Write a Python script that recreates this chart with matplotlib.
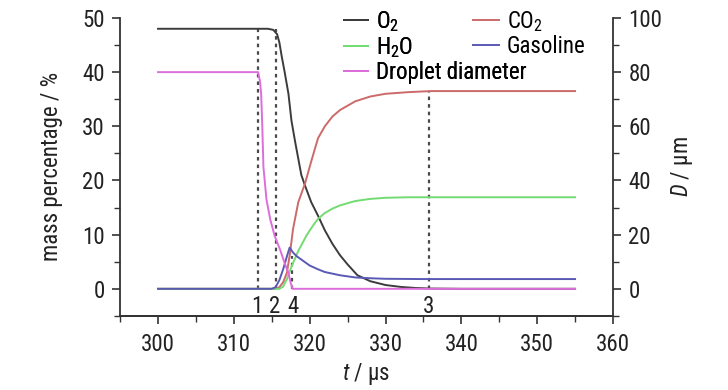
import matplotlib
matplotlib.use("Agg")
import matplotlib.pyplot as plt
from matplotlib import font_manager
from matplotlib.ticker import MultipleLocator

# ---------------- data ----------------
t_o2 = [300, 314.5, 315.2, 315.7, 316.0, 316.3, 316.7, 317.2, 317.6, 318.1, 318.5, 318.9,
        319.4, 320.2, 321.1, 322.0, 323.0, 324.0, 325.0, 326.3, 328.0, 330.0, 332.0, 334.0,
        336.0, 340.0, 355.0]
o2 = [48, 48, 47.8, 47.0, 45.5, 43.0, 40.0, 36.0, 31.0, 27.0, 24.0, 21.0,
      19.0, 16.0, 13.5, 10.8, 8.3, 6.2, 4.5, 2.5, 1.4, 0.7, 0.35, 0.15,
      0.05, 0.0, 0.0]

t_co2 = [300, 315.5, 316.0, 316.5, 317.0, 317.4, 317.8, 318.5, 319.4, 320.2, 321.1, 322.0,
         323.0, 324.0, 326.0, 328.0, 330.0, 333.0, 336.0, 340.0, 355.0]
co2 = [0, 0, 0.3, 1.2, 3.0, 6.5, 11.0, 16.0, 19.5, 23.5, 27.8, 30.0,
       31.8, 33.0, 34.6, 35.5, 36.0, 36.3, 36.5, 36.5, 36.5]

t_h2o = [300, 316.0, 316.5, 317.0, 317.6, 318.5, 319.6, 320.5, 321.1, 322.0, 323.0, 324.0,
         326.0, 328.0, 330.0, 333.0, 336.0, 355.0]
h2o = [0, 0, 0.4, 1.8, 4.1, 7.0, 9.9, 11.8, 12.9, 14.0, 14.8, 15.4,
       16.2, 16.6, 16.8, 16.9, 16.9, 16.9]

t_gas = [300, 315.0, 315.5, 316.0, 316.5, 317.0, 317.35, 317.8, 318.3, 318.9, 320.0, 321.1,
         322.0, 323.0, 324.0, 326.0, 328.0, 330.0, 335.0, 355.0]
gasoline = [0, 0, 0.3, 1.6, 3.6, 6.0, 7.6, 6.7, 6.0, 5.4, 4.3, 3.6,
            3.1, 2.8, 2.5, 2.1, 1.95, 1.85, 1.8, 1.8]

t_d = [300, 313.2, 313.45, 313.6, 313.75, 313.9, 314.3, 314.8, 315.4, 316.1, 316.7, 317.2,
       317.5, 317.75, 355.0]
diameter = [80, 80, 76.5, 72, 60, 45, 33, 25.6, 19.4, 14.4, 9.5, 5.8,
            2.1, 0, 0]

# marker lines: time, label, top value (left axis units)
mark_t = [313.2, 315.5, 335.7, 317.7]
mark_lbl = ["1", "2", "3", "4"]
mark_top = [48, 48, 36.5, 6.0]
mark_lbl_t = [313.1, 315.4, 335.7, 317.8]

xticks = [300, 310, 320, 330, 340, 350, 360]
yticks_left = [0, 10, 20, 30, 40, 50]
yticks_right = [0, 20, 40, 60, 80, 100]

# ---------------- fonts ----------------
names = {f.name for f in font_manager.fontManager.ttflist}
fam = 'Liberation Sans'
for cand in ['Roboto Condensed', 'Archivo Narrow', 'PT Sans Narrow']:
    if cand in names:
        fam = cand
        break
plt.rcParams['font.family'] = [fam, 'DejaVu Sans']
plt.rcParams['mathtext.fontset'] = 'custom'
plt.rcParams['mathtext.rm'] = fam
plt.rcParams['mathtext.it'] = fam + ':italic'
FS = 16.5

col_o2 = '#3c3c3c'
col_co2 = '#cc6a6a'
col_h2o = '#72dc72'
col_gas = '#5a5ab4'
col_d = '#dc6edc'
col_dash = '#4a4a4a'

fig = plt.figure(figsize=(7.28, 3.9), dpi=100)
ax = fig.add_axes([0.165, 0.190, 0.677, 0.764])
ax2 = ax.twinx()

lw = 1.4
l_o2, = ax.plot(t_o2, o2, color=col_o2, lw=lw, label='O$_2$')
l_co2, = ax.plot(t_co2, co2, color=col_co2, lw=lw, label='CO$_2$')
l_h2o, = ax.plot(t_h2o, h2o, color=col_h2o, lw=lw, label='H$_2$O')
l_gas, = ax.plot(t_gas, gasoline, color=col_gas, lw=lw, label='Gasoline')
l_d, = ax2.plot(t_d, diameter, color=col_d, lw=lw, label='Droplet diameter')

for tm, top in zip(mark_t, mark_top):
    ax.plot([tm, tm], [0, top], color=col_dash, lw=1.6, ls=(0, (1.6, 1.8)), zorder=1)
for tl, lb in zip(mark_lbl_t, mark_lbl):
    ax.text(tl, -3.3, lb, ha='center', va='center', fontsize=FS, color='#222222')

ax.set_xlim(295, 360)
ax.set_ylim(-5, 50)
ax2.set_ylim(-10, 100)
ax.set_xticks(xticks)
ax.set_yticks(yticks_left)
ax2.set_yticks(yticks_right)
ax.xaxis.set_minor_locator(MultipleLocator(5))
ax.yaxis.set_minor_locator(MultipleLocator(5))
ax2.yaxis.set_minor_locator(MultipleLocator(10))

for a in (ax, ax2):
    a.spines['top'].set_visible(False)
    for s in a.spines.values():
        s.set_color('#333333')
        s.set_linewidth(1.3)
ax2.spines['left'].set_visible(False)
ax.spines['right'].set_visible(False)

ax.tick_params(axis='both', which='major', direction='out', length=6, width=1.2,
               labelsize=FS, colors='#333333', labelcolor='#222222', pad=5)
ax.tick_params(axis='both', which='minor', direction='out', length=4, width=1.0, colors='#333333')
ax.tick_params(axis='x', which='major', pad=6)
ax2.tick_params(axis='y', which='major', direction='out', length=6, width=1.2,
                labelsize=FS, colors='#333333', labelcolor='#222222', pad=5)
ax2.tick_params(axis='y', which='minor', direction='out', length=4, width=1.0, colors='#333333')

ax.set_ylabel('mass percentage / %', fontsize=FS, color='#222222', labelpad=14)
ax.set_xlabel('$t$ / μs', fontsize=FS, color='#222222', labelpad=4)
ax2.set_ylabel('$D$ / μm', fontsize=FS, color='#222222', labelpad=5)

leg1 = ax.legend(handles=[l_o2, l_h2o, l_d], loc='upper left', bbox_to_anchor=(0.455, 1.03),
                 frameon=False, fontsize=FS, handlelength=1.05, handletextpad=0.35,
                 labelspacing=0.05, borderpad=0, borderaxespad=0)
ax.add_artist(leg1)
ax2.legend(handles=[l_co2, l_gas], loc='upper left', bbox_to_anchor=(0.715, 1.03),
           frameon=False, fontsize=FS, handlelength=1.15, handletextpad=0.35,
           labelspacing=0.05, borderpad=0, borderaxespad=0)

fig.savefig('out.png', dpi=100, facecolor='white')
